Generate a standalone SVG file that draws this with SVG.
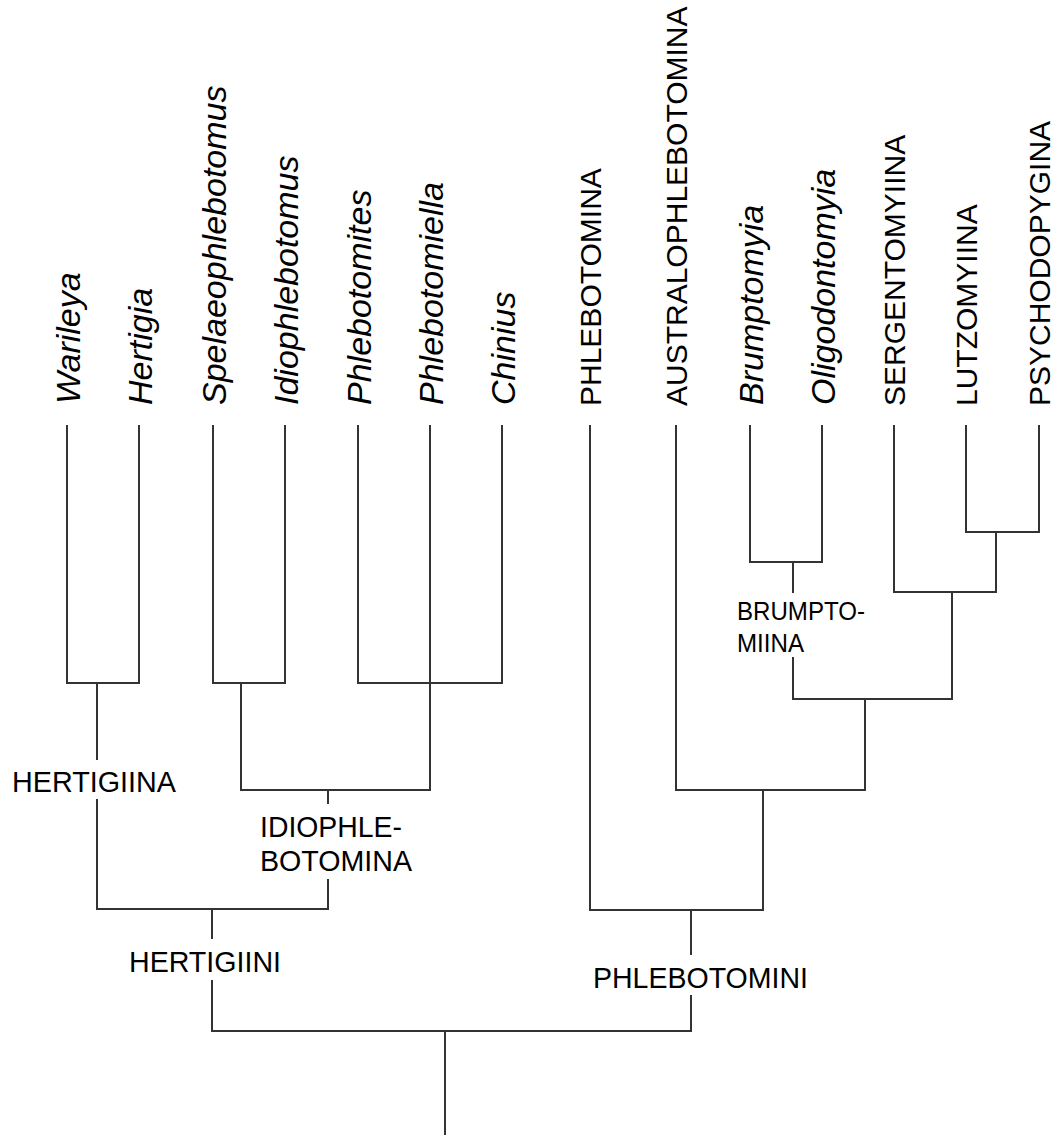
<svg xmlns="http://www.w3.org/2000/svg" width="1055" height="1135" viewBox="0 0 1055 1135">
<style>
.bg{fill:#ffffff}
.ln{stroke:#333333;stroke-width:2;fill:none;stroke-linecap:square}
.leaf{font-family:"Liberation Sans",Arial,sans-serif;font-size:30px;fill:#000;text-anchor:start}
.gen{font-family:"Liberation Sans",Arial,sans-serif;font-size:34px;font-style:italic;fill:#000;text-anchor:start}
.lab{font-family:"Liberation Sans",Arial,sans-serif;font-size:29.5px;fill:#000}
.sm{font-family:"Liberation Sans",Arial,sans-serif;font-size:25px;fill:#000}
</style>
<rect class="bg" x="0" y="0" width="1055" height="1135"/>
<g id="connectors">
<path class="ln" d="M67 426V683M139 426V683M67 683H139"/>
<path class="ln" d="M97 683V759M97 800V909"/>
<path class="ln" d="M213 426V683M285 426V683M213 683H285"/>
<path class="ln" d="M241 683V790"/>
<path class="ln" d="M358 426V683M502 426V683M358 683H502"/>
<path class="ln" d="M430 426V790M241 790H430"/>
<path class="ln" d="M328 790V803M328 880V909M97 909H328"/>
<path class="ln" d="M212 909V938M212 981V1031M212 1031H691"/>
<path class="ln" d="M445 1031V1135"/>
<path class="ln" d="M590 426V910"/>
<path class="ln" d="M676 426V790"/>
<path class="ln" d="M750 426V562M822 426V562M750 562H822"/>
<path class="ln" d="M793 562V592M793 658V699"/>
<path class="ln" d="M894 426V592"/>
<path class="ln" d="M966 426V532M1039 426V532M966 532H1039"/>
<path class="ln" d="M996 532V592M894 592H996"/>
<path class="ln" d="M952 592V699M793 699H952"/>
<path class="ln" d="M865 699V790M676 790H865"/>
<path class="ln" d="M763 790V910M590 910H763"/>
<path class="ln" d="M691 910V954M691 996V1031"/>
</g>
<g id="leaf-warileya"><text class="gen" x="79.5" y="404" transform="rotate(-90 79.5 404)">Warileya</text></g>
<g id="leaf-hertigia"><text class="gen" x="151.5" y="405" transform="rotate(-90 151.5 405)">Hertigia</text></g>
<g id="leaf-spelaeophlebotomus"><text class="gen" x="225.5" y="405" transform="rotate(-90 225.5 405)">Spelaeophlebotomus</text></g>
<g id="leaf-idiophlebotomus"><text class="gen" x="297.5" y="405" transform="rotate(-90 297.5 405)">Idiophlebotomus</text></g>
<g id="leaf-phlebotomites"><text class="gen" x="370.5" y="405" transform="rotate(-90 370.5 405)">Phlebotomites</text></g>
<g id="leaf-phlebotomiella"><text class="gen" x="442.5" y="405" transform="rotate(-90 442.5 405)">Phlebotomiella</text></g>
<g id="leaf-chinius"><text class="gen" x="514.5" y="405" transform="rotate(-90 514.5 405)">Chinius</text></g>
<g id="leaf-phlebotomina"><text class="leaf" x="601" y="406" transform="rotate(-90 601 406)">PHLEBOTOMINA</text></g>
<g id="leaf-australophlebotomina"><text class="leaf" x="687" y="406" transform="rotate(-90 687 406)">AUSTRALOPHLEBOTOMINA</text></g>
<g id="leaf-brumptomyia"><text class="gen" x="762.5" y="405" transform="rotate(-90 762.5 405)">Brumptomyia</text></g>
<g id="leaf-oligodontomyia"><text class="gen" x="834.5" y="405" transform="rotate(-90 834.5 405)">Oligodontomyia</text></g>
<g id="leaf-sergentomyiina"><text class="leaf" x="905" y="406" transform="rotate(-90 905 406)">SERGENTOMYIINA</text></g>
<g id="leaf-lutzomyiina"><text class="leaf" x="977" y="406" transform="rotate(-90 977 406)">LUTZOMYIINA</text></g>
<g id="leaf-psychodopygina"><text class="leaf" x="1050" y="406" transform="rotate(-90 1050 406)">PSYCHODOPYGINA</text></g>
<g id="node-hertigiina"><text class="lab" x="12" y="792" textLength="164" lengthAdjust="spacingAndGlyphs">HERTIGIINA</text></g>
<g id="node-idiophlebotomina"><text class="lab" x="260" y="837" textLength="142" lengthAdjust="spacingAndGlyphs">IDIOPHLE-</text><text class="lab" x="260" y="871" textLength="152" lengthAdjust="spacingAndGlyphs">BOTOMINA</text></g>
<g id="node-hertigiini"><text class="lab" x="129" y="972" textLength="152" lengthAdjust="spacingAndGlyphs">HERTIGIINI</text></g>
<g id="node-phlebotomini"><text class="lab" x="593" y="988" textLength="215" lengthAdjust="spacingAndGlyphs">PHLEBOTOMINI</text></g>
<g id="node-brumptomiina"><text class="sm" x="737" y="620" textLength="128" lengthAdjust="spacingAndGlyphs">BRUMPTO-</text><text class="sm" x="737" y="652" textLength="67" lengthAdjust="spacingAndGlyphs">MIINA</text></g>
</svg>
